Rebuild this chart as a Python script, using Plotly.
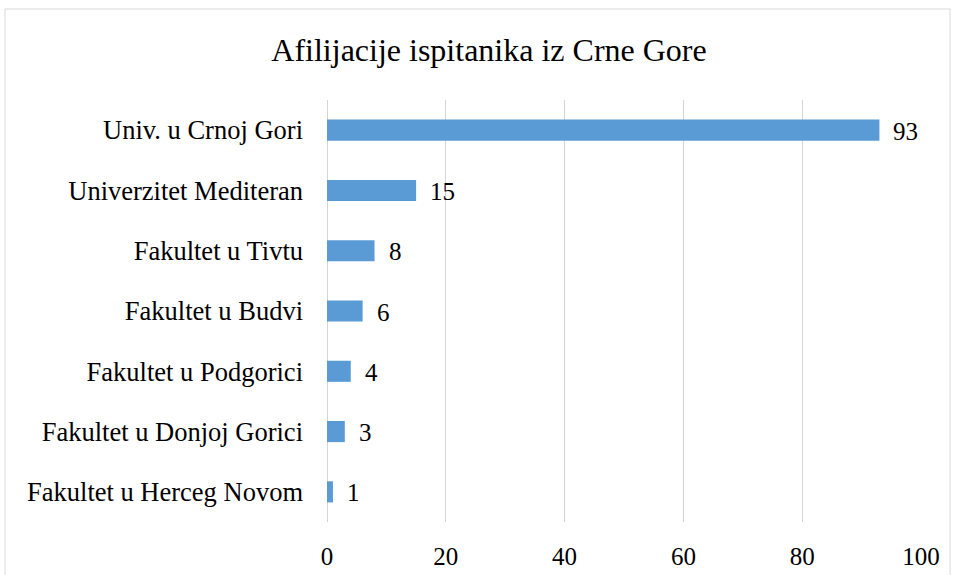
import plotly.graph_objects as go

categories = ["Univ. u Crnoj Gori", "Univerzitet Mediteran", "Fakultet u Tivtu",
              "Fakultet u Budvi", "Fakultet u Podgorici", "Fakultet u Donjoj Gorici",
              "Fakultet u Herceg Novom"]
values = [93, 15, 8, 6, 4, 3, 1]
x_ticks = [0, 20, 40, 60, 80, 100]

FONT = "Liberation Serif"

fig = go.Figure()
fig.add_trace(go.Bar(
    x=values, y=categories, orientation="h",
    marker=dict(color="#5b9bd5", line=dict(width=0)),
    width=0.35,
    hoverinfo="x+y",
))

for c, v in zip(categories, values):
    fig.add_annotation(x=v, y=c, text=str(v), showarrow=False,
                       xanchor="left", xshift=12, yshift=-1,
                       font=dict(family=FONT, size=25, color="#000000"))

L, R, T, B = 327, 37, 100, 53
W, H = 958, 575
pw, ph = W - L - R, H - T - B

def px(xp):
    return (xp - L) / pw

def py(yp):
    return (H - B - yp) / ph

fig.add_shape(type="rect", xref="paper", yref="paper",
              x0=px(5), x1=px(950), y0=py(590), y1=py(9),
              line=dict(color="#d9d9d9", width=1), fillcolor="rgba(0,0,0,0)",
              layer="below")

fig.update_layout(
    width=W, height=H,
    margin=dict(l=L, r=R, t=T, b=B, pad=0, autoexpand=False),
    paper_bgcolor="white", plot_bgcolor="white",
    font=dict(family=FONT, color="#000000"),
    showlegend=False,
    title=dict(text="Afilijacije ispitanika iz Crne Gore",
               font=dict(family=FONT, size=32, color="#000000"),
               x=px(489), xref="paper", xanchor="center",
               y=1 - 50 / H, yref="container", yanchor="middle"),
    xaxis=dict(range=[0, 100], tickvals=x_ticks, showgrid=True,
               gridcolor="#d4d4d4", gridwidth=1, zeroline=True,
               zerolinecolor="#d4d4d4", zerolinewidth=1,
               showline=False, ticks="", ticklabelstandoff=17,
               automargin=False,
               tickfont=dict(family=FONT, size=25, color="#000000"),
               fixedrange=True),
    yaxis=dict(categoryorder="array", categoryarray=categories[::-1],
               showgrid=False, zeroline=False, showline=False, ticks="",
               ticklabelstandoff=23, automargin=False,
               tickfont=dict(family=FONT, size=26.5, color="#000000"),
               fixedrange=True),
)

fig.write_html("out.html", config={"displayModeBar": False},
               post_script="document.body.style.margin='0';document.body.style.overflow='hidden';")
